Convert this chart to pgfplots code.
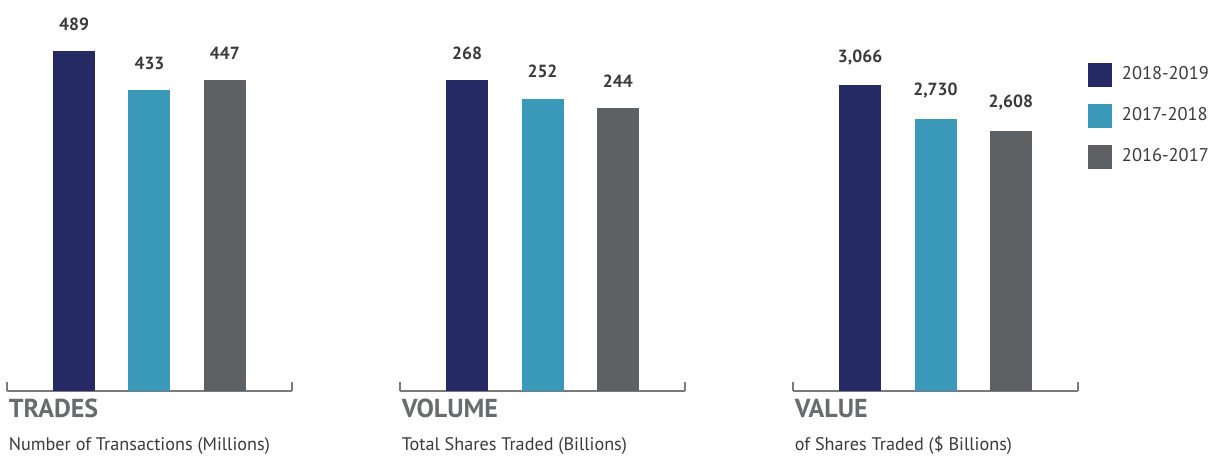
\documentclass[border=0pt]{standalone}
\usepackage{fontspec}
\setmainfont{PT Sans}
\usepackage{pgfplots}
\pgfplotsset{compat=1.18}
\definecolor{navy}{HTML}{262A64}
\definecolor{teal}{HTML}{3A98B9}
\definecolor{slate}{HTML}{5E6164}
\definecolor{axisgray}{HTML}{7A7A7A}
\definecolor{titlegray}{HTML}{6A6B6E}
\definecolor{subgray}{HTML}{3A3A3A}

\pgfplotsset{
  panel/.style={
    scale only axis,
    width=142.5pt, height=195.5pt,
    xmin=0.11, xmax=3.89, ymin=0,
    ybar, bar width=21pt, bar shift=0pt,
    axis x line*=bottom, axis y line=none,
    xtick={0.11,3.89}, xticklabels={},
    ytick=\empty,
    tick align=inside, major tick length=4.5pt,
    x axis line style={draw=axisgray, line width=1pt, -},
    tick style={draw=axisgray, line width=1pt},
    /pgf/number format/assume math mode=true,
    nodes near coords={\pgfmathprintnumber[1000 sep={,}]{\pgfplotspointmeta}},
    every node near coord/.append style={font=\fontsize{8.8}{10}\selectfont\bfseries,
      text=subgray, anchor=south, inner sep=0pt, yshift=10pt},
    clip=false,
  },
}

\newcommand{\paneltitle}[2]{%
  \node[anchor=north west, inner sep=0pt, align=left] at (rel axis cs:0.005,0)
    [yshift=-4pt] {{\fontsize{13}{15}\selectfont\bfseries\color{titlegray}#1}\\[4.5pt]
    {\fontsize{9.1}{11}\selectfont\color{subgray}#2}};}

\begin{document}
\begin{tikzpicture}
\begin{axis}[panel, ymax=562.6]
  \addplot[fill=navy, draw=none] coordinates {(1,489)};
  \addplot[fill=teal, draw=none] coordinates {(2,433)};
  \addplot[fill=slate, draw=none] coordinates {(3,447)};
  \paneltitle{TRADES}{Number of Transactions (Millions)}
\end{axis}
\begin{axis}[panel, at={(196.5pt,0pt)}, ymax=337]
  \addplot[fill=navy, draw=none] coordinates {(1,268)};
  \addplot[fill=teal, draw=none] coordinates {(2,252)};
  \addplot[fill=slate, draw=none] coordinates {(3,244)};
  \paneltitle{VOLUME}{Total Shares Traded (Billions)}
\end{axis}
\begin{axis}[panel, at={(393pt,0pt)}, ymax=3922,
  legend style={at={(1.035,0.839)}, anchor=north west, draw=none, fill=none,
    inner sep=0pt, outer sep=0pt, row sep=8.5pt,
    font=\fontsize{9.2}{11}\selectfont\color{subgray},
    nodes={inner sep=0pt}},
  legend cell align=left,
  legend image code/.code={\fill[#1] (0pt,-6pt) rectangle (12pt,6pt);},
]
  \addplot[fill=navy, draw=none] coordinates {(1,3066)};
  \addplot[fill=teal, draw=none] coordinates {(2,2730)};
  \addplot[fill=slate, draw=none] coordinates {(3,2608)};
  \legend{\hspace{5pt}2018-2019,\hspace{5pt}2017-2018,\hspace{5pt}2016-2017}
  \paneltitle{VALUE}{of Shares Traded (\$ Billions)}
\end{axis}
\pgfresetboundingbox
\path[use as bounding box] (-3.5pt,-33.5pt) rectangle (602.5pt,195.5pt);
\end{tikzpicture}
\end{document}
